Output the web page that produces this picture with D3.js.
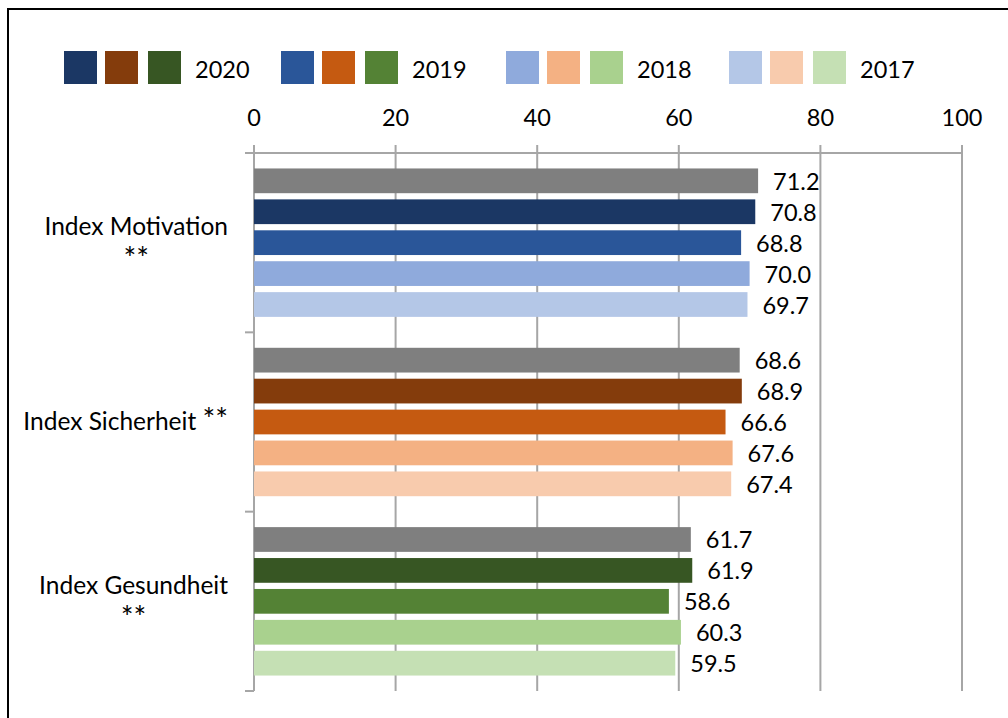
<!DOCTYPE html>
<html><head><meta charset="utf-8">
<script src="https://cdn.jsdelivr.net/npm/d3@7"></script>
<style>body{margin:0;background:#fff}svg{display:block}text{font-family:Lato,"Open Sans",sans-serif;fill:#000}</style>
</head><body><svg id="c" width="1008" height="718"></svg>
<script>
const categories = ["Index Motivation\n**", "Index Sicherheit **", "Index Gesundheit\n**"];
const seriesNames = ["Gesamt", "2020", "2019", "2018", "2017"];
const values = [
  [71.2, 70.8, 68.8, 70.0, 69.7],
  [68.6, 68.9, 66.6, 67.6, 67.4],
  [61.7, 61.9, 58.6, 60.3, 59.5]
];
const colors = [
  ["#7f7f7f", "#1b3764", "#2a5699", "#8faadc", "#b4c7e7"],
  ["#7f7f7f", "#843c0c", "#c55a11", "#f4b183", "#f8cbad"],
  ["#7f7f7f", "#375623", "#548235", "#a9d18e", "#c5e0b4"]
];
const legendYears = ["2020", "2019", "2018", "2017"];
const xTicks = [0, 20, 40, 60, 80, 100];

const svg = d3.select("#c");
svg.append("rect").attr("x", 8).attr("y", 9).attr("width", 1010).attr("height", 720)
  .attr("fill", "none").attr("stroke", "#000").attr("stroke-width", 2);

const x = d3.scaleLinear().domain([0, 100]).range([254, 962]);
const y = d3.scaleBand().domain(d3.range(categories.length)).range([153, 691]);
const yi = d3.scaleBand().domain(d3.range(seriesNames.length)).range([0, y.bandwidth()]).paddingInner(0.2).paddingOuter(0.5);

svg.append("g").selectAll("line").data(xTicks).join("line")
  .attr("x1", d => x(d)).attr("x2", d => x(d)).attr("y1", 145).attr("y2", 691)
  .attr("stroke", "#a6a6a6").attr("stroke-width", 2);
svg.append("line").attr("x1", 245).attr("x2", 962).attr("y1", 153).attr("y2", 153)
  .attr("stroke", "#a6a6a6").attr("stroke-width", 2);
svg.append("line").attr("x1", 254).attr("x2", 254).attr("y1", 153).attr("y2", 691)
  .attr("stroke", "#a6a6a6").attr("stroke-width", 2);
const bounds = d3.range(categories.length).map(i => y(i)).concat([y.range()[1]]);
svg.append("g").selectAll("line").data(bounds).join("line")
  .attr("x1", 245).attr("x2", 254).attr("y1", d => d).attr("y2", d => d)
  .attr("stroke", "#a6a6a6").attr("stroke-width", 2);

svg.append("g").selectAll("text").data(xTicks).join("text")
  .attr("x", d => x(d)).attr("y", 126).attr("text-anchor", "middle")
  .attr("font-size", 23.5).text(d => d);

categories.forEach((cat, ci) => {
  const g = svg.append("g").attr("transform", `translate(0,${y(ci)})`);
  g.selectAll("rect").data(values[ci]).join("rect")
    .attr("x", x(0)).attr("y", (d, i) => yi(i))
    .attr("width", d => x(d) - x(0)).attr("height", yi.bandwidth())
    .attr("fill", (d, i) => colors[ci][i]);
  g.selectAll("text").data(values[ci]).join("text")
    .attr("x", d => x(d) + 15).attr("y", (d, i) => yi(i) + yi.bandwidth() / 2 + 9)
    .attr("font-size", 23.5).text(d => d.toFixed(1));

  const lines = cat.split("\n");
  const cy = y(ci) + y.bandwidth() / 2;
  const lh = 31;
  const texts = lines.map((ln, i) => svg.append("text").attr("text-anchor", "middle")
    .attr("font-size", 24.5)
    .attr("y", cy + 8 + (i - (lines.length - 1) / 2) * lh + (ln === "**" ? 3 : 0))
    .call(t => {
      const m = ln.match(/^(.*?)(\*\*)?$/);
      if (m[1]) t.append("tspan").text(m[1]);
      if (m[2]) t.append("tspan").attr("font-size", 30).text(m[2]);
    }));
  const w = d3.max(texts, t => t.node().getComputedTextLength());
  texts.forEach(t => t.attr("x", 228 - w / 2));
});

const legX = [64, 281, 506, 729];
legendYears.forEach((yr, k) => {
  const g = svg.append("g").attr("transform", `translate(${legX[k]},51)`);
  [0, 41, 84].forEach((dx, ci) => {
    g.append("rect").attr("x", dx).attr("y", 0)
      .attr("width", 33).attr("height", 33).attr("fill", colors[ci][k + 1]);
  });
  g.append("text").attr("x", 131).attr("y", 27).attr("font-size", 23.5).text(yr);
});
</script></body></html>
